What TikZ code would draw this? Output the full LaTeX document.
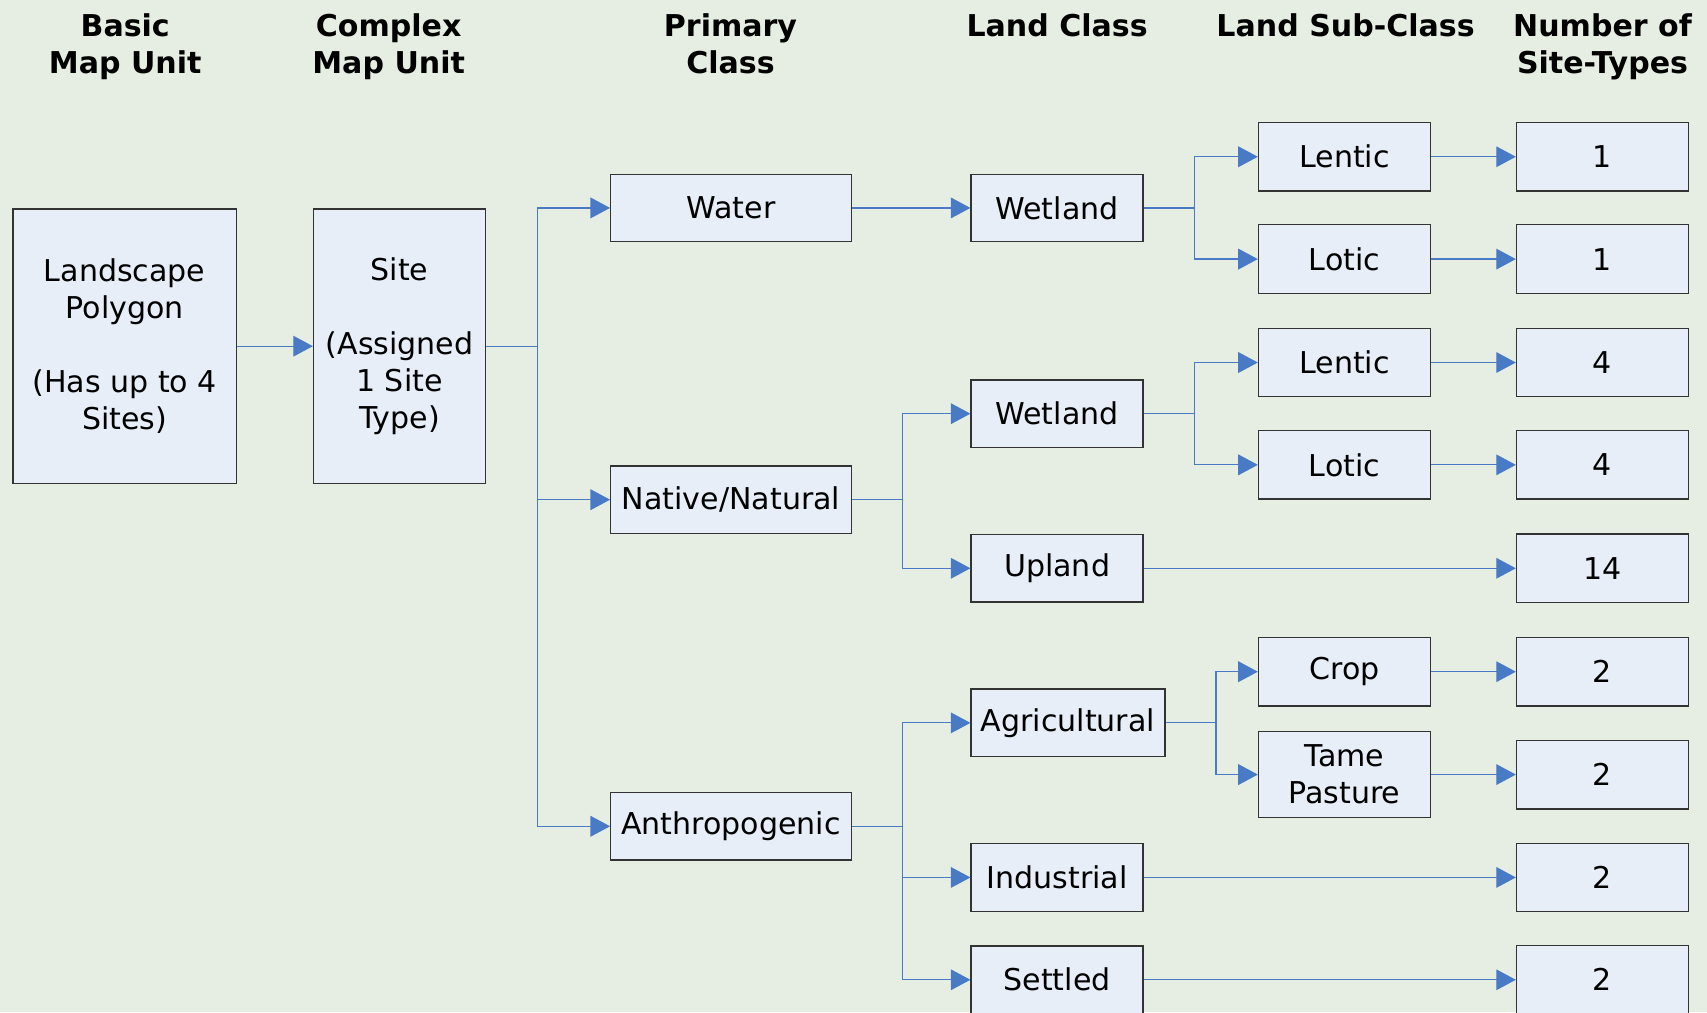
\documentclass[tikz,border=0pt]{standalone}
\usepackage{fontspec}
\setmainfont{DejaVu Sans}
\usepackage{tikz}
\usetikzlibrary{arrows.meta}
\definecolor{bgcol}{RGB}{230,238,227}
\definecolor{boxfill}{RGB}{232,238,248}
\definecolor{linkcol}{RGB}{72,122,198}
\begin{document}
\begin{tikzpicture}[x=0.5pt,y=-0.5pt,
    unit/.style={draw=black!80,line width=0.6pt,fill=boxfill,align=center,inner sep=2pt,
      minimum width=79pt,minimum height=31.5pt,font=\fontsize{13.8}{17}\selectfont},
    primary/.style={unit,minimum width=110.5pt,minimum height=31pt},
    tall/.style={unit,minimum height=126pt},
    head/.style={align=center,anchor=north,inner sep=0pt,font=\fontsize{13.8}{17}\selectfont\bfseries},
    link/.style={draw=linkcol,line width=0.55pt,-{Triangle[length=9pt,width=9.5pt]}}]
        \fill [bgcol] (0,0) rectangle (1568,930);
        \useasboundingbox (0,0) rectangle (1568,930);
      % column headers
      \node [head] (h1) at (115,12) {Basic\\Map Unit};
      \node [head] (h2) at (357,12) {Complex\\Map Unit};
      \node [head] (h3) at (671,12) {Primary\\Class};
      \node [head] (h4) at (971,12) {Land Class};
      \node [head] (h5) at (1236,12) {Land Sub-Class};
      \node [head] (h6) at (1472,12) {Number of\\Site-Types};
      % map units
      \node [tall,minimum width=102.5pt] (land) at (114.5,318) {Landscape\\Polygon\\~\\(Has up to 4\\Sites)};
      \node [tall] (site) at (367,318) {Site\\~\\(Assigned\\1 Site\\Type)};
      % primary classes
      \node [primary] (water) at (671.5,191) {Water};
      \node [primary] (native) at (671.5,459) {Native/Natural};
      \node [primary] (anthro) at (671.5,759) {Anthropogenic};
      % land classes
      \node [unit,minimum height=31pt] (wetA) at (971,191) {Wetland};
      \node [unit,minimum height=31pt] (wetB) at (971,380) {Wetland};
      \node [unit,minimum height=31pt] (upland) at (971,522) {Upland};
      \node [unit,minimum height=31pt,minimum width=89pt] (agri) at (981,664) {Agricultural};
      \node [unit,minimum height=31pt] (indus) at (971,806) {Industrial};
      \node [unit,minimum height=31pt] (settled) at (971,900) {Settled};
      % land sub-classes
      \node [unit] (lenA) at (1235,144) {Lentic};
      \node [unit] (lotA) at (1235,238) {Lotic};
      \node [unit] (lenB) at (1235,333) {Lentic};
      \node [unit] (lotB) at (1235,427) {Lotic};
      \node [unit] (crop) at (1235,617) {Crop};
      \node [unit,minimum height=39.5pt] (tame) at (1235,711.5) {Tame\\Pasture};
      % number of site-types
      \node [unit] (nA) at (1472,144) {1};
      \node [unit] (nB) at (1472,238) {1};
      \node [unit] (nC) at (1472,333) {4};
      \node [unit] (nD) at (1472,427) {4};
      \node [unit] (nE) at (1472,522) {14};
      \node [unit] (nF) at (1472,617) {2};
      \node [unit] (nG) at (1472,711.5) {2};
      \node [unit] (nH) at (1472,806) {2};
      \node [unit] (nI) at (1472,900) {2};
      % fork lines
      \coordinate (f1) at (494,0);
      \coordinate (f2) at (829,0);
      \coordinate (f3) at (1097,0);
      \coordinate (f4) at (1117,0);
        \draw [link] (land.east) -- (site.east -| site.west);
        \foreach \c in {water,native,anthro}
          \draw [link] (site.east) -- (site.east -| f1) |- (\c.west);
        \draw [link] (water.east) -- (wetA.west);
        \foreach \c in {wetB,upland}
          \draw [link] (native.east) -- (native.east -| f2) |- (\c.west);
        \foreach \c in {agri,indus,settled}
          \draw [link] (anthro.east) -- (anthro.east -| f2) |- (\c.west);
        \foreach \c in {lenA,lotA}
          \draw [link] (wetA.east) -- (wetA.east -| f3) |- (\c.west);
        \foreach \c in {lenB,lotB}
          \draw [link] (wetB.east) -- (wetB.east -| f3) |- (\c.west);
        \foreach \c in {crop,tame}
          \draw [link] (agri.east) -- (agri.east -| f4) |- (\c.west);
        \foreach \a/\b in {lenA/nA,lotA/nB,lenB/nC,lotB/nD,upland/nE,crop/nF,tame/nG,indus/nH,settled/nI}
          \draw [link] (\a.east) -- (\b.west);
    \end{tikzpicture}
\end{document}
